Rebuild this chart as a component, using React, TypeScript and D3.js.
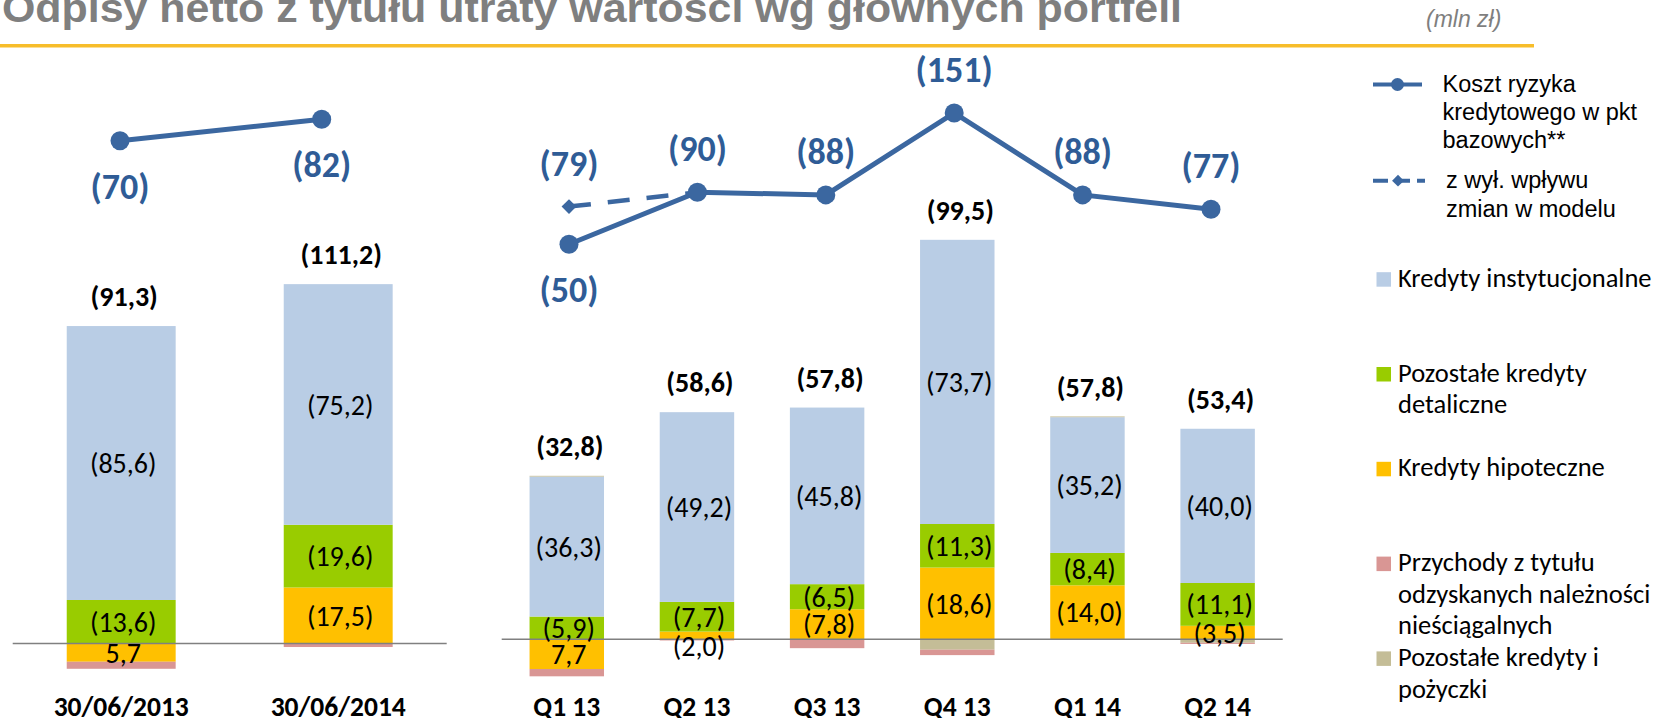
import React from 'react';
import * as d3 from 'd3';

// ---------- DATA (mln zł; positive = net charge drawn upward, negative = net release drawn downward)
const leftCategories = ['30/06/2013', '30/06/2014'];
const rightCategories = ['Q1 13', 'Q2 13', 'Q3 13', 'Q4 13', 'Q1 14', 'Q2 14'];

const leftHipoteczne = [-5.7, 17.5];
const leftDetaliczne = [13.6, 19.6];
const leftInstytucjonalne = [85.6, 75.2];
const leftPozostalePozyczki = [0, 0];
const leftPrzychody = [-2.2, -1.1];
const leftTotals = [91.3, 111.2];

const rightHipoteczne = [-7.7, 2.0, 7.8, 18.6, 14.0, 3.5];
const rightDetaliczne = [5.9, 7.7, 6.5, 11.3, 8.4, 11.1];
const rightInstytucjonalne = [36.3, 49.2, 45.8, 73.7, 35.2, 40.0];
const rightPozostalePozyczki = [0.2, 0, 0, -2.7, 0.2, -0.9];
const rightPrzychody = [-1.9, -0.3, -2.3, -1.4, 0, -0.3];
const rightTotals = [32.8, 58.6, 57.8, 99.5, 57.8, 53.4];

const leftCostOfRisk = [70, 82];
const rightCostOfRisk = [50, 90, 88, 151, 88, 77];
const exModelCategories = ['Q1 13', 'Q2 13'];
const exModelCostOfRisk = [79, 90];

const seriesKeys = ['hip', 'det', 'inst', 'poz', 'prz'];
const seriesNames = [
  ['Kredyty hipoteczne'],
  ['Pozostałe kredyty', 'detaliczne'],
  ['Kredyty instytucjonalne'],
  ['Pozostałe kredyty i', 'pożyczki'],
  ['Przychody z tytułu', 'odzyskanych należności', 'nieściągalnych'],
];
const legendOrder = ['inst', 'det', 'hip', 'prz', 'poz'];
const lineLegend1 = ['Koszt ryzyka', 'kredytowego w pkt', 'bazowych**'];
const lineLegend2 = ['z wył. wpływu', 'zmian w modelu'];

const titleText = 'Odpisy netto z tytułu utraty wartości wg głównych portfeli';
const unitText = '(mln zł)';

// ---------- STYLE
const colors: Record<string, string> = {
  hip: '#FFC000',
  det: '#99CC00',
  inst: '#B9CDE5',
  poz: '#C4BD97',
  prz: '#D99694',
};
const labeledKeys = new Set(['hip', 'det', 'inst']);
const LINE = '#3B67A0';
const LINE_LABEL = '#2F5C96';
const CAL = "Carlito, Calibri, Lato, 'Open Sans', sans-serif";
const ARIAL = "'Liberation Sans', Arial, sans-serif";

const fmtSeg = (v: number) => {
  const s = Math.abs(v).toFixed(1).replace('.', ',');
  return v > 0 ? `(${s})` : s;
};
const fmtTotal = (v: number) => `(${v.toFixed(1).replace('.', ',')})`;

type PanelProps = {
  cats: string[];
  table: any[];
  totals: number[];
  x: d3.ScaleBand<string>;
  y: d3.ScaleLinear<number, number>;
  zeroRange: [number, number];
};

function BarPanel({ cats, table, totals, x, y, zeroRange }: PanelProps) {
  const stack = d3.stack<any>().keys(seriesKeys).offset(d3.stackOffsetDiverging);
  const layers = stack(table);
  const bw = x.bandwidth();
  return (
    <g>
      {layers.map((layer) => (
        <g key={layer.key}>
          {layer.map((d, i) => {
            const y0 = y(d[0]);
            const y1 = y(d[1]);
            const top = Math.min(y0, y1);
            const h = Math.abs(y1 - y0);
            if (h <= 0) return null;
            return (
              <rect
                key={i}
                x={x(cats[i])}
                y={top}
                width={bw}
                height={h}
                fill={colors[layer.key]}
              />
            );
          })}
        </g>
      ))}
      <line
        x1={zeroRange[0]}
        x2={zeroRange[1]}
        y1={y(0)}
        y2={y(0)}
        stroke="#808080"
        strokeWidth={1.6}
      />
      {layers
        .filter((l) => labeledKeys.has(l.key))
        .map((layer) => (
          <g key={'lab' + layer.key}>
            {layer.map((d, i) => {
              const v = table[i][layer.key];
              if (!v) return null;
              const y0 = y(d[0]);
              const y1 = y(d[1]);
              const h = Math.abs(y1 - y0);
              let cy = (y0 + y1) / 2;
              if (h < 10) cy = Math.max(y0, y1) + 7;
              return (
                <text
                  key={i}
                  x={(x(cats[i]) as number) + bw / 2 + 2}
                  y={cy}
                  dy="0.36em"
                  textAnchor="middle"
                  fontFamily={CAL}
                  fontSize={28}
                  fill="#000"
                >
                  {fmtSeg(v)}
                </text>
              );
            })}
          </g>
        ))}
      {cats.map((c, i) => {
        const topVal = d3.max(layers, (l) => l[i][1]) as number;
        return (
          <text
            key={'t' + c}
            x={(x(c) as number) + bw / 2 + 3}
            y={y(topVal) - 30}
            dy="0.36em"
            textAnchor="middle"
            fontFamily={CAL}
            fontWeight="bold"
            fontSize={28}
            fill="#000"
          >
            {fmtTotal(totals[i])}
          </text>
        );
      })}
      {cats.map((c) => (
        <text
          key={'c' + c}
          x={(x(c) as number) + bw / 2}
          y={716}
          textAnchor="middle"
          fontFamily={CAL}
          fontWeight="bold"
          fontSize={27.5}
          fill="#000"
        >
          {c}
        </text>
      ))}
    </g>
  );
}

function buildTable(cats: string[], hip: number[], det: number[], inst: number[], poz: number[], prz: number[]) {
  return cats.map((c, i) => ({ cat: c, hip: hip[i], det: det[i], inst: inst[i], poz: poz[i], prz: prz[i] }));
}

export default function App() {
  const W = 1659;
  const H = 718;

  const leftTable = buildTable(leftCategories, leftHipoteczne, leftDetaliczne, leftInstytucjonalne, leftPozostalePozyczki, leftPrzychody);
  const rightTable = buildTable(rightCategories, rightHipoteczne, rightDetaliczne, rightInstytucjonalne, rightPozostalePozyczki, rightPrzychody);

  const xLeft = d3.scaleBand<string>().domain(leftCategories).range([12.7, 446.7]).paddingInner(0.498).paddingOuter(0.249);
  const yLeft = d3.scaleLinear().domain([0, 100]).range([643.5, 323.5]);
  const xRight = d3.scaleBand<string>().domain(rightCategories).range([501.7, 1282.7]).paddingInner(0.428).paddingOuter(0.214);
  const yRight = d3.scaleLinear().domain([0, 100]).range([639.3, 253.7]);

  const xLineLeft = d3.scalePoint<string>().domain(leftCategories).range([120, 321.7]);
  const yLineLeft = d3.scaleLinear().domain([0, 100]).range([265.5, 87.2]);
  const xLineRight = d3.scalePoint<string>().domain(rightCategories).range([569, 1211]);
  const yLineRight = d3.scaleLinear().domain([0, 200]).range([309.3, 49.3]);

  const leftPts = leftCategories.map((c, i) => [xLineLeft(c) as number, yLineLeft(leftCostOfRisk[i])] as [number, number]);
  const rightPts = rightCategories.map((c, i) => [xLineRight(c) as number, yLineRight(rightCostOfRisk[i])] as [number, number]);
  const exPts = exModelCategories.map((c, i) => [xLineRight(c) as number, yLineRight(exModelCostOfRisk[i])] as [number, number]);
  const lineGen = d3.line();

  const leftBelow = [true, true];
  const rightBelow = [true, false, false, false, false, false];

  const lineLabel = (p: [number, number], v: number, below: boolean, k: string) => (
    <text
      key={k}
      x={p[0]}
      y={p[1] + (below ? 45 : -44)}
      dy="0.36em"
      textAnchor="middle"
      fontFamily={CAL}
      fontWeight="bold"
      fontSize={36}
      fill={LINE_LABEL}
    >
      {`(${v})`}
    </text>
  );

  const diamond = d3.symbol(d3.symbolSquare, 110)() as string;

  const legendFirst = 286.7;
  const legendStep = 94.8;
  const legendLine = 31.6;

  return (
    <svg width={W} height={H} style={{ position: 'absolute', left: 0, top: 0, background: '#fff' }}>
      <rect x={0} y={0} width={W} height={H} fill="#fff" />
      {/* title */}
      <text
        x={2}
        y={22}
        fontFamily={ARIAL}
        fontWeight="bold"
        fontSize={41}
        fill="#7F7F7F"
        textLength={1180}
        lengthAdjust="spacingAndGlyphs"
      >
        {titleText}
      </text>
      <text x={1426} y={27} fontFamily={ARIAL} fontStyle="italic" fontSize={23} fill="#7F7F7F">
        {unitText}
      </text>
      <rect x={0} y={44} width={1534} height={3.5} fill="#F7BD2A" />

      <BarPanel cats={leftCategories} table={leftTable} totals={leftTotals} x={xLeft} y={yLeft} zeroRange={[12.7, 446.7]} />
      <BarPanel cats={rightCategories} table={rightTable} totals={rightTotals} x={xRight} y={yRight} zeroRange={[501.7, 1282.7]} />

      {/* cost of risk lines */}
      <path d={lineGen(exPts) as string} fill="none" stroke={LINE} strokeWidth={4.5} strokeDasharray="22,17" />
      <path d={lineGen(leftPts) as string} fill="none" stroke={LINE} strokeWidth={5} />
      <path d={lineGen(rightPts) as string} fill="none" stroke={LINE} strokeWidth={5} />
      <path d={diamond} transform={`translate(${exPts[0][0]},${exPts[0][1]}) rotate(45)`} fill={LINE} />
      {leftPts.map((p, i) => <circle key={'lc' + i} cx={p[0]} cy={p[1]} r={9.5} fill={LINE} />)}
      {rightPts.map((p, i) => <circle key={'rc' + i} cx={p[0]} cy={p[1]} r={9.5} fill={LINE} />)}
      {leftPts.map((p, i) => lineLabel(p, leftCostOfRisk[i], leftBelow[i], 'll' + i))}
      {rightPts.map((p, i) => lineLabel(p, rightCostOfRisk[i], rightBelow[i], 'rl' + i))}
      {lineLabel(exPts[0], exModelCostOfRisk[0], false, 'ex0')}

      {/* legend: lines */}
      <g>
        <line x1={1373} x2={1422} y1={84.5} y2={84.5} stroke={LINE} strokeWidth={4} />
        <circle cx={1397.5} cy={84.5} r={6.5} fill={LINE} />
        {lineLegend1.map((t, i) => (
          <text key={'ll1' + i} x={1442.5} y={92 + i * 28.2} fontFamily={ARIAL} fontSize={23.5} fill="#000">
            {t}
          </text>
        ))}
        <line x1={1373} x2={1425} y1={180.7} y2={180.7} stroke={LINE} strokeWidth={4} strokeDasharray="15,7" />
        <path d={d3.symbol(d3.symbolSquare, 70)() as string} transform={`translate(1398,180.7) rotate(45)`} fill={LINE} />
        {lineLegend2.map((t, i) => (
          <text key={'ll2' + i} x={1446} y={188.3 + i * 28.4} fontFamily={ARIAL} fontSize={23.5} fill="#000">
            {t}
          </text>
        ))}
      </g>
      {/* legend: bars */}
      {legendOrder.map((k, j) => {
        const names = seriesNames[seriesKeys.indexOf(k)];
        const base = legendFirst + j * legendStep;
        return (
          <g key={'lg' + k}>
            <rect x={1376.5} y={base - 14.5} width={14.5} height={14.5} fill={colors[k]} />
            {names.map((t, i) => (
              <text key={i} x={1398} y={base + i * legendLine} fontFamily={CAL} fontSize={26.5} fill="#000">
                {t}
              </text>
            ))}
          </g>
        );
      })}
    </svg>
  );
}
